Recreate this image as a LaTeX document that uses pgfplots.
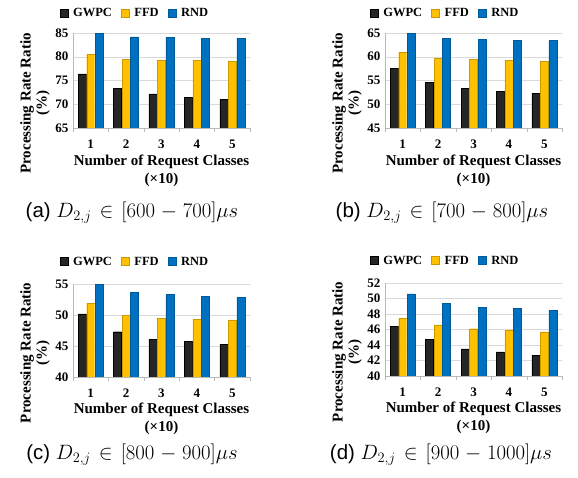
\documentclass[border=0pt]{standalone}
\usepackage{fontspec}
\setmainfont{Liberation Serif}
\newfontfamily\capfont{Liberation Sans}
\usepackage{pgfplots}
\pgfplotsset{compat=1.18}
\definecolor{cG}{HTML}{262626}
\definecolor{cF}{HTML}{FFC000}
\definecolor{cR}{HTML}{0070C0}
\pgfplotsset{
 panel/.style={
  scale only axis, width=177pt, height=95pt,
  ybar=0.5pt, bar width=8pt,
  xmin=0.5, xmax=5.5, xtick={1,2,3,4,5},
  axis x line*=bottom, axis y line*=left,
  axis line style={draw=gray!55},
  ymajorgrids, grid style={draw=gray!30},
  major tick length=0pt,
  tick label style={font=\bfseries\fontsize{13}{14}\selectfont},
  /pgf/number format/assume math mode=true,
  xticklabel style={yshift=-8pt},
  yticklabel style={xshift=-1pt},
  extra x ticks={0.5,1.5,2.5,3.5,4.5,5.5}, extra x tick labels={},
  extra x tick style={grid=none, major tick length=4pt, tick align=outside, tick style={draw=gray!55}},
  legend columns=3,
  legend style={draw=none, fill=none, font=\bfseries\fontsize{12.5}{13}\selectfont,
    /tikz/every odd column/.append style={column sep=3pt},
    /tikz/every even column/.append style={column sep=7pt}, anchor=center},
  legend image code/.code={\fill[##1] (0pt,-4pt) rectangle (8pt,4pt);},
  xlabel={Number of Request Classes\\(\texttimes10)},
  ylabel={Processing Rate Ratio\\(\%)},
  xlabel style={align=center, font=\bfseries\fontsize{15}{18}\selectfont, at={(axis description cs:0.5,-0.45)}, anchor=center},
  ylabel style={align=center, font=\bfseries\fontsize{15}{16}\selectfont, at={(axis description cs:-0.215,0.26)}, anchor=center},
 },
 gw/.style={fill=cG, draw=black},
 ff/.style={fill=cF, draw=cF!80!black},
 rn/.style={fill=cR, draw=cR!80!black},
}
\newcommand{\subcap}[2]{(#1)\ $\thickmuskip=7mu\medmuskip=5mu D_{2,j}\in[#2]\mu s$}
\begin{document}
\begin{tikzpicture}
\path[use as bounding box] (0pt,0pt) rectangle (578pt,478pt);
% (a)
\begin{axis}[panel, at={(73pt,350pt)}, anchor=south west, ymin=65, ymax=85, ytick={65,70,75,80,85},
  legend style={at={(axis description cs:0.35,1.21)}}]
\addplot[gw] coordinates {(1,76.4) (2,73.4) (3,72.2) (4,71.5) (5,71.0)};
\addplot[ff] coordinates {(1,80.5) (2,79.5) (3,79.3) (4,79.2) (5,79.1)};
\addplot[rn] coordinates {(1,84.9) (2,84.2) (3,84.1) (4,83.9) (5,83.9)};
\legend{GWPC,FFD,RND}
\end{axis}
% (b)
\begin{axis}[panel, at={(385pt,350pt)}, anchor=south west, ymin=45, ymax=65, ytick={45,50,55,60,65},
  legend style={at={(axis description cs:0.34,1.21)}}]
\addplot[gw] coordinates {(1,57.5) (2,54.6) (3,53.3) (4,52.7) (5,52.3)};
\addplot[ff] coordinates {(1,60.9) (2,59.7) (3,59.4) (4,59.2) (5,59.1)};
\addplot[rn] coordinates {(1,64.9) (2,63.9) (3,63.6) (4,63.5) (5,63.4)};
\legend{GWPC,FFD,RND}
\end{axis}
% (c)
\begin{axis}[panel, at={(73pt,101pt)}, anchor=south west, height=93pt, ymin=40, ymax=55, ytick={40,45,50,55},
  legend style={at={(axis description cs:0.35,1.24)}}]
\addplot[gw] coordinates {(1,50.2) (2,47.3) (3,46.1) (4,45.7) (5,45.3)};
\addplot[ff] coordinates {(1,51.9) (2,49.9) (3,49.5) (4,49.3) (5,49.2)};
\addplot[rn] coordinates {(1,54.9) (2,53.7) (3,53.3) (4,53.0) (5,52.9)};
\legend{GWPC,FFD,RND}
\end{axis}
% (d)
\begin{axis}[panel, at={(385pt,102pt)}, anchor=south west, height=93pt, ymin=40, ymax=52, ytick={40,42,44,46,48,50,52},
  legend style={at={(axis description cs:0.34,1.24)}}]
\addplot[gw] coordinates {(1,46.4) (2,44.7) (3,43.5) (4,43.1) (5,42.7)};
\addplot[ff] coordinates {(1,47.4) (2,46.6) (3,46.1) (4,45.9) (5,45.7)};
\addplot[rn] coordinates {(1,50.6) (2,49.4) (3,48.9) (4,48.7) (5,48.5)};
\legend{GWPC,FFD,RND}
\end{axis}
\node[font=\capfont\fontsize{20.5}{22}\selectfont] at (132pt,265pt) {\subcap{a}{600-700}};
\node[font=\capfont\fontsize{20.5}{22}\selectfont] at (442pt,265pt) {\subcap{b}{700-800}};
\node[font=\capfont\fontsize{20.5}{22}\selectfont] at (132pt,23pt) {\subcap{c}{800-900}};
\node[font=\capfont\fontsize{20.5}{22}\selectfont] at (441pt,23pt) {\subcap{d}{900-1000}};
\end{tikzpicture}
\end{document}
